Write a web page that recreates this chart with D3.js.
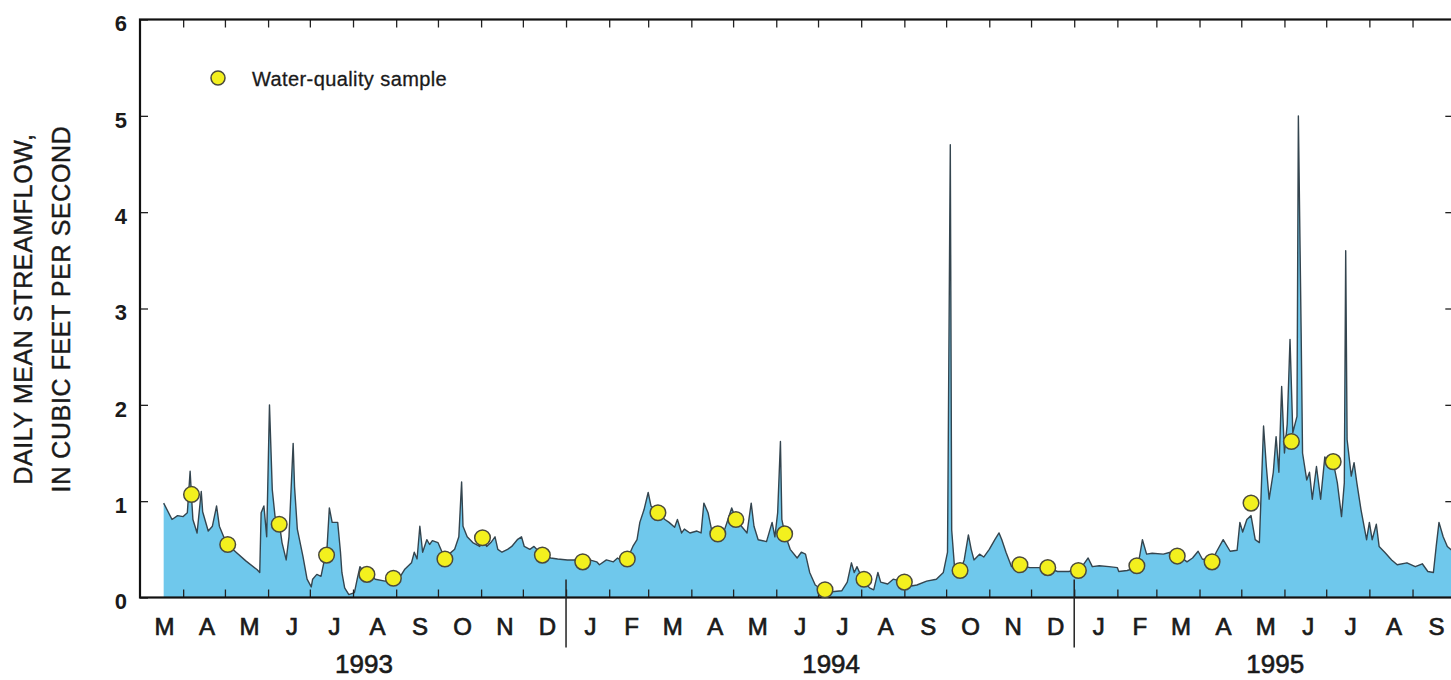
<!DOCTYPE html>
<html>
<head>
<meta charset="utf-8">
<script src="https://cdn.jsdelivr.net/npm/d3@7"></script>
<style>
  html, body { margin: 0; padding: 0; background: #ffffff; }
  svg { display: block; }
  text { font-family: "Liberation Sans", Arial, Helvetica, sans-serif; fill: #1a1a1a; }
</style>
</head>
<body>
<svg id="chart" width="1451" height="680"></svg>
<script>
// ---------------- DATA ----------------
const flowDates = [
"1993-03-18","1993-03-24","1993-03-28","1993-04-01","1993-04-04","1993-04-06","1993-04-07","1993-04-08","1993-04-11","1993-04-14",
"1993-04-15","1993-04-19","1993-04-22","1993-04-25","1993-04-27","1993-05-01","1993-05-03","1993-05-09","1993-05-16","1993-05-24",
"1993-05-26","1993-05-27","1993-05-29","1993-05-31","1993-06-02","1993-06-04","1993-06-06","1993-06-09","1993-06-11","1993-06-14",
"1993-06-16","1993-06-19","1993-06-20","1993-06-22","1993-06-26","1993-06-29","1993-07-02","1993-07-03","1993-07-06","1993-07-09",
"1993-07-11","1993-07-13","1993-07-15","1993-07-17","1993-07-21","1993-07-23","1993-07-24","1993-07-26","1993-07-29","1993-08-02",
"1993-08-04","1993-08-06","1993-08-09","1993-08-11","1993-08-17","1993-08-24","1993-08-30","1993-09-04","1993-09-07","1993-09-12",
"1993-09-14","1993-09-16","1993-09-18","1993-09-20","1993-09-23","1993-09-25","1993-09-27","1993-10-01","1993-10-04","1993-10-06",
"1993-10-09","1993-10-13","1993-10-16","1993-10-18","1993-10-19","1993-10-22","1993-10-26","1993-10-31","1993-11-02","1993-11-05",
"1993-11-08","1993-11-11","1993-11-13","1993-11-16","1993-11-20","1993-11-23","1993-11-27","1993-11-30","1993-12-02","1993-12-06",
"1993-12-09","1993-12-13","1993-12-15","1993-12-21","1993-12-26","1994-01-02","1994-01-07","1994-01-13","1994-01-18","1994-01-23",
"1994-01-25","1994-01-30","1994-02-04","1994-02-07","1994-02-11","1994-02-14","1994-02-18","1994-02-21","1994-02-23","1994-02-26",
"1994-03-01","1994-03-03","1994-03-08","1994-03-13","1994-03-16","1994-03-20","1994-03-22","1994-03-25","1994-03-27","1994-03-31",
"1994-04-05","1994-04-08","1994-04-10","1994-04-13","1994-04-16","1994-04-20","1994-04-25","1994-04-30","1994-05-03","1994-05-07",
"1994-05-11","1994-05-14","1994-05-16","1994-05-19","1994-05-25","1994-05-29","1994-05-31","1994-06-02","1994-06-04","1994-06-05",
"1994-06-07","1994-06-11","1994-06-16","1994-06-19","1994-06-22","1994-06-25","1994-06-29","1994-07-04","1994-07-11","1994-07-18",
"1994-07-22","1994-07-25","1994-07-27","1994-07-29","1994-08-02","1994-08-07","1994-08-10","1994-08-13","1994-08-15","1994-08-20",
"1994-08-24","1994-09-01","1994-09-06","1994-09-10","1994-09-17","1994-09-24","1994-09-29","1994-10-02","1994-10-04","1994-10-05",
"1994-10-07","1994-10-11","1994-10-14","1994-10-17","1994-10-19","1994-10-21","1994-10-25","1994-10-28","1994-11-01","1994-11-05",
"1994-11-08","1994-11-10","1994-11-13","1994-11-17","1994-11-23","1994-11-30","1994-12-07","1994-12-13","1994-12-20","1994-12-28",
"1995-01-05","1995-01-09","1995-01-11","1995-01-14","1995-01-19","1995-01-26","1995-02-01","1995-02-02","1995-02-08","1995-02-15",
"1995-02-17","1995-02-19","1995-02-22","1995-02-26","1995-03-06","1995-03-11","1995-03-16","1995-03-23","1995-03-27","1995-03-31",
"1995-04-03","1995-04-10","1995-04-13","1995-04-18","1995-04-23","1995-04-28","1995-04-30","1995-05-02","1995-05-05","1995-05-08",
"1995-05-11","1995-05-14","1995-05-17","1995-05-19","1995-05-21","1995-05-24","1995-05-26","1995-05-28","1995-05-30","1995-06-01",
"1995-06-03","1995-06-05","1995-06-07","1995-06-10","1995-06-11","1995-06-13","1995-06-14","1995-06-17","1995-06-19","1995-06-21",
"1995-06-24","1995-06-27","1995-06-30","1995-07-03","1995-07-06","1995-07-09","1995-07-12","1995-07-14","1995-07-15","1995-07-16",
"1995-07-19","1995-07-21","1995-07-23","1995-07-26","1995-07-30","1995-08-01","1995-08-03","1995-08-06","1995-08-08","1995-08-12",
"1995-08-17","1995-08-21","1995-08-28","1995-09-03","1995-09-08","1995-09-12","1995-09-16","1995-09-18","1995-09-20","1995-09-23",
"1995-09-26","1995-09-30"
];
const flowCfs = [
0.98,0.81,0.85,0.84,0.88,1.31,1.05,0.81,0.67,1.10,
0.89,0.69,0.74,0.95,0.74,0.60,0.55,0.47,0.38,0.29,
0.26,0.88,0.95,0.63,2.00,1.12,0.84,0.78,0.57,0.39,
0.63,1.60,1.15,0.71,0.43,0.19,0.11,0.19,0.24,0.22,
0.36,0.43,0.93,0.78,0.78,0.47,0.26,0.10,0.03,0.05,
0.19,0.32,0.26,0.24,0.19,0.17,0.20,0.22,0.29,0.36,
0.47,0.40,0.74,0.47,0.60,0.55,0.59,0.57,0.47,0.40,
0.45,0.50,0.63,1.20,0.74,0.63,0.57,0.53,0.62,0.53,
0.57,0.63,0.50,0.47,0.50,0.53,0.60,0.63,0.53,0.50,
0.53,0.47,0.44,0.41,0.40,0.39,0.39,0.37,0.39,0.37,
0.34,0.39,0.37,0.41,0.37,0.40,0.53,0.60,0.78,0.91,
1.09,0.95,0.88,0.81,0.78,0.73,0.81,0.67,0.71,0.67,
0.69,0.67,0.98,0.88,0.67,0.66,0.71,0.93,0.81,0.74,
0.67,0.98,0.74,0.60,0.58,0.78,0.63,0.88,1.62,0.81,
0.67,0.50,0.41,0.47,0.45,0.26,0.13,0.08,0.06,0.07,
0.16,0.36,0.26,0.32,0.19,0.10,0.08,0.26,0.16,0.14,
0.19,0.16,0.12,0.13,0.17,0.19,0.26,0.47,4.70,0.70,
0.32,0.27,0.39,0.65,0.50,0.39,0.45,0.42,0.50,0.60,
0.67,0.60,0.47,0.32,0.34,0.31,0.31,0.31,0.27,0.27,
0.29,0.37,0.41,0.32,0.33,0.32,0.31,0.27,0.28,0.31,
0.43,0.60,0.45,0.46,0.45,0.47,0.45,0.37,0.41,0.48,
0.40,0.37,0.47,0.60,0.48,0.49,0.78,0.68,0.81,0.85,
0.60,0.57,1.78,1.36,1.02,1.30,1.67,1.30,2.19,1.50,
1.80,2.68,1.71,1.88,5.00,2.75,1.50,1.22,1.30,1.02,
1.36,1.02,1.46,1.35,1.41,1.19,0.84,1.19,3.60,1.64,
1.26,1.40,1.19,0.91,0.60,0.78,0.60,0.76,0.53,0.47,
0.39,0.34,0.36,0.32,0.35,0.27,0.26,0.53,0.78,0.63,
0.53,0.48
];
const sampleDates = [
"1993-04-07","1993-05-03","1993-06-09","1993-07-13","1993-08-11","1993-08-30","1993-10-06","1993-11-02","1993-12-15",
"1994-01-13","1994-02-14","1994-03-08","1994-04-20","1994-05-03","1994-06-07","1994-07-06","1994-08-03","1994-09-01",
"1994-10-11","1994-11-23","1994-12-13","1995-01-04","1995-02-15","1995-03-16","1995-04-10","1995-05-08","1995-06-06","1995-07-06"
];
const sampleCfs = [
1.07,0.55,0.76,0.44,0.24,0.20,0.40,0.62,0.44,
0.37,0.40,0.88,0.66,0.81,0.66,0.08,0.19,0.16,
0.28,0.34,0.31,0.28,0.33,0.43,0.37,0.98,1.62,1.41
];
const monthLetters = ["M","A","M","J","J","A","S","O","N","D",
                      "J","F","M","A","M","J","J","A","S","O","N","D",
                      "J","F","M","A","M","J","J","A","S"];
const yearLabels = ["1993","1994","1995"];
const yTickValues = [0,1,2,3,4,5,6];
const yTitleLines = ["DAILY MEAN STREAMFLOW,","IN CUBIC FEET PER SECOND"];
const legendLabel = "Water-quality sample";

// ---------------- CHART ----------------
(function () {
const parse = d3.utcParse("%Y-%m-%d");
const flow = flowDates.map((d, i) => ({ date: parse(d), v: flowCfs[i] }));
const samples = sampleDates.map((d, i) => ({ date: parse(d), v: sampleCfs[i] }));

const svg = d3.select("#chart");
const pLeft = 140, pRight = 1454.3, pTop = 19.5, pBottom = 597.5;
const domainStart = Date.UTC(1993, 2, 1), domainEnd = Date.UTC(1995, 9, 1);

const x = d3.scaleUtc().domain([new Date(domainStart), new Date(domainEnd)]).range([pLeft, pRight]);
const y = d3.scaleLinear().domain([0, 6]).range([pBottom, pTop]);

const fillColor = "#6fc8ec";
const lineColor = "#34454f";
const textColor = "#1a1a1a";

// area
svg.append("path")
  .datum(flow)
  .attr("fill", fillColor)
  .attr("d", d3.area().x(d => x(d.date)).y0(y(0)).y1(d => y(d.v)));

// line
svg.append("path")
  .datum(flow)
  .attr("fill", "none")
  .attr("stroke", lineColor)
  .attr("stroke-width", 1.4)
  .attr("stroke-linejoin", "round")
  .attr("d", d3.line().x(d => x(d.date)).y(d => y(d.v)));

// month boundaries
const monthStarts = d3.utcMonth.range(new Date(domainStart), new Date(domainEnd + 1));
const innerMonths = monthStarts.filter(d => +d > domainStart && +d < domainEnd);

// bottom axis (ticks pointing up, no labels)
const xAxisB = svg.append("g").attr("transform", `translate(0,${pBottom})`)
  .call(d3.axisBottom(x).tickValues(innerMonths).tickSize(-8).tickFormat(""));
xAxisB.select(".domain").remove();
xAxisB.selectAll(".tick line").attr("stroke", "#222").attr("stroke-width", 1.3);

// top axis (ticks pointing down)
const xAxisT = svg.append("g").attr("transform", `translate(0,${pTop})`)
  .call(d3.axisTop(x).tickValues(innerMonths).tickSize(-8).tickFormat(""));
xAxisT.select(".domain").remove();
xAxisT.selectAll(".tick line").attr("stroke", "#222").attr("stroke-width", 1.3);

// left y axis
const yAxisL = svg.append("g").attr("transform", `translate(${pLeft},0)`)
  .call(d3.axisLeft(y).tickValues(yTickValues).tickSize(-8).tickPadding(13).tickFormat(d3.format("d")));
yAxisL.select(".domain").remove();
yAxisL.selectAll(".tick line").attr("stroke", "#222").attr("stroke-width", 1.3);
yAxisL.selectAll(".tick text")
  .attr("font-size", 22).attr("font-weight", "bold").attr("fill", textColor)
  .attr("font-family", "'Liberation Sans', Arial, sans-serif")
  .attr("dy", "0.52em");

// right y axis ticks
const yAxisR = svg.append("g").attr("transform", `translate(${pRight},0)`)
  .call(d3.axisRight(y).tickValues(yTickValues.filter(v => v > 0 && v < 6)).tickSize(-9).tickFormat(""));
yAxisR.select(".domain").remove();
yAxisR.selectAll(".tick line").attr("stroke", "#222").attr("stroke-width", 1.3);

// frame
svg.append("rect")
  .attr("x", pLeft).attr("y", pTop)
  .attr("width", pRight - pLeft).attr("height", pBottom - pTop)
  .attr("fill", "none").attr("stroke", "#111").attr("stroke-width", 2.2);

// year separators
const yearStarts = d3.utcYear.range(new Date(domainStart), new Date(domainEnd)).filter(d => +d > domainStart);
svg.selectAll("line.sep").data(yearStarts).join("line")
  .attr("class", "sep")
  .attr("x1", d => x(d)).attr("x2", d => x(d))
  .attr("y1", pBottom - 18).attr("y2", pBottom + 50)
  .attr("stroke", "#222").attr("stroke-width", 1.5);

// month labels
const monthMids = monthStarts.filter(d => +d < domainEnd).map(d => {
  const next = d3.utcMonth.offset(d, 1);
  return new Date((+d + +next) / 2);
});
svg.selectAll("text.month").data(monthMids).join("text")
  .attr("class", "month")
  .attr("x", d => x(d) + 3)
  .attr("y", 635)
  .attr("text-anchor", "middle")
  .attr("font-size", 24)
  .attr("stroke", textColor).attr("stroke-width", 0.7)
  .text((d, i) => monthLetters[i]);

// year labels
const yearSpans = yearLabels.map(yr => {
  const s = Math.max(Date.UTC(+yr, 0, 1), domainStart);
  const e = Math.min(Date.UTC(+yr + 1, 0, 1), domainEnd);
  return { label: yr, mid: new Date((s + e) / 2) };
});
svg.selectAll("text.year").data(yearSpans).join("text")
  .attr("class", "year")
  .attr("x", d => x(d.mid) + 11)
  .attr("y", 673)
  .attr("text-anchor", "middle")
  .attr("font-size", 26)
  .attr("stroke", textColor).attr("stroke-width", 0.6)
  .text(d => d.label);

// y title
const yTitle = svg.append("text")
  .attr("transform", `translate(0,309) rotate(-90)`)
  .attr("text-anchor", "middle")
  .attr("font-size", 25)
  .attr("letter-spacing", 0.6)
  .attr("stroke", textColor).attr("stroke-width", 0.4);
yTitle.selectAll("tspan").data(yTitleLines).join("tspan")
  .attr("x", 0)
  .attr("y", (d, i) => 32 + i * 38)
  .text(d => d);

// samples
svg.selectAll("circle.sample").data(samples).join("circle")
  .attr("class", "sample")
  .attr("cx", d => x(d.date)).attr("cy", d => y(d.v))
  .attr("r", 7.8)
  .attr("fill", "#f3f01e")
  .attr("stroke", "#4b4a3c")
  .attr("stroke-width", 1.5);

// legend
svg.append("circle")
  .attr("cx", 218).attr("cy", 78).attr("r", 7)
  .attr("fill", "#f3f01e").attr("stroke", "#4b4a3c").attr("stroke-width", 1.5);
svg.append("text")
  .attr("x", 252).attr("y", 86)
  .attr("font-size", 20)
  .attr("letter-spacing", 0.4)
  .attr("stroke", textColor).attr("stroke-width", 0.3)
  .text(legendLabel);
})();
</script>
</body>
</html>
